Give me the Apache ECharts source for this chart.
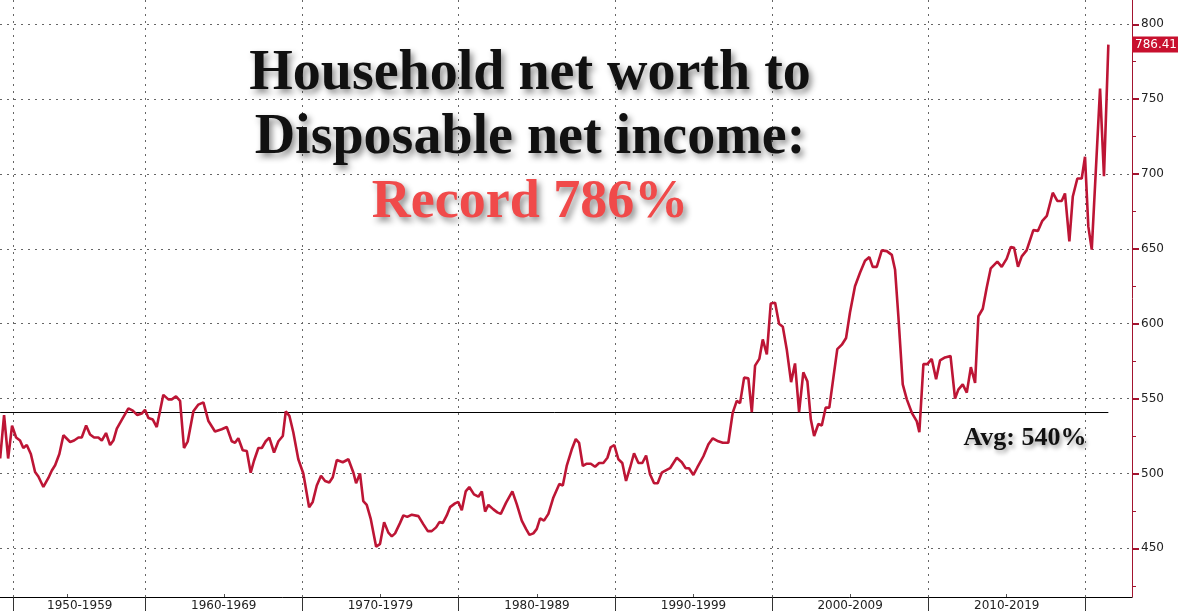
<!DOCTYPE html>
<html>
<head>
<meta charset="utf-8">
<script src="https://cdn.jsdelivr.net/npm/echarts@6/dist/echarts.min.js"></script>
<style>
html,body{margin:0;padding:0;background:#fff;}
#chart{width:1181px;height:612px;}
</style>
</head>
<body>
<div id="chart"></div>
<script>
// ---- data (year, ratio %) ----
const years = [1950.72,1950.97,1951.23,1951.48,1951.74,1951.99,1952.20,1952.42,1952.68,1952.95,1953.16,1953.48,1953.80,1954.02,1954.23,1954.50,1954.76,1955.19,1955.44,1955.72,1955.93,1956.21,1956.46,1956.72,1956.99,1957.21,1957.48,1957.74,1957.95,1958.17,1958.55,1958.91,1959.19,1959.48,1959.76,1959.97,1960.19,1960.47,1960.72,1961.14,1961.46,1961.68,1961.95,1962.21,1962.46,1962.70,1963.06,1963.38,1963.70,1964.02,1964.44,1964.87,1965.19,1965.51,1965.72,1965.93,1966.21,1966.47,1966.72,1966.93,1967.21,1967.43,1967.68,1967.91,1968.21,1968.49,1968.77,1968.96,1969.19,1969.44,1969.76,1970.08,1970.45,1970.68,1970.94,1971.21,1971.47,1971.74,1971.96,1972.22,1972.60,1972.96,1973.28,1973.45,1973.70,1973.91,1974.13,1974.39,1974.73,1974.98,1975.24,1975.51,1975.73,1975.94,1976.26,1976.47,1976.72,1977.01,1977.43,1977.75,1978.03,1978.28,1978.56,1978.77,1978.99,1979.24,1979.45,1979.77,1979.98,1980.20,1980.45,1980.68,1980.98,1981.26,1981.48,1981.69,1981.90,1982.22,1982.47,1982.69,1983.03,1983.43,1983.71,1984.03,1984.30,1984.52,1984.77,1984.99,1985.20,1985.45,1985.73,1986.05,1986.43,1986.65,1986.90,1987.22,1987.48,1987.69,1987.93,1988.18,1988.44,1988.71,1988.97,1989.24,1989.50,1989.71,1989.94,1990.20,1990.45,1990.69,1990.95,1991.20,1991.48,1991.73,1991.97,1992.22,1992.48,1992.71,1992.97,1993.23,1993.50,1993.93,1994.25,1994.50,1994.71,1994.99,1995.24,1995.63,1995.95,1996.23,1996.58,1996.87,1997.22,1997.50,1997.76,1997.97,1998.23,1998.50,1998.72,1998.93,1999.20,1999.42,1999.68,1999.93,2000.21,2000.46,2000.70,2000.95,2001.23,2001.48,2001.74,2002.01,2002.27,2002.49,2002.70,2002.97,2003.19,2003.44,2003.67,2003.93,2004.18,2004.47,2004.74,2004.99,2005.31,2005.63,2005.95,2006.23,2006.44,2006.70,2007.02,2007.34,2007.66,2007.87,2008.08,2008.36,2008.62,2008.94,2009.25,2009.42,2009.68,2009.93,2010.21,2010.49,2010.74,2011.06,2011.41,2011.70,2011.91,2012.19,2012.45,2012.71,2012.98,2013.19,2013.47,2013.72,2013.98,2014.40,2014.68,2015.00,2015.26,2015.47,2015.72,2015.96,2016.27,2016.70,2016.99,2017.26,2017.56,2017.94,2018.23,2018.51,2018.72,2019.00,2019.22,2019.51,2019.79,2020.00,2020.21,2020.43,2020.96,2021.21,2021.49];
const ratio = [510,539,510,532,524,522,517,519,513,501,498,491,497,502,505.5,513,525.5,521,522,524,524,532,526,524,524,522,527,519,522,530,537,543.5,542,539,540,542.5,537,536,531,552.5,549.5,549.5,551.5,548.5,517,521.5,541.5,546,547.5,535,528,529.5,531,521.5,520.5,523.5,515.5,515,500.5,508.5,517,517,521.5,524,514,521.5,525,541.5,538.5,527.5,509.5,500,477.5,481,492,498.5,495,494,497.5,509,507.5,509.5,500.5,493.5,500,481.5,479,469.5,451,453,467.5,460.5,458,460,467,472,471,472.5,471.5,466,461.5,461.5,464,467.5,467,472,477.5,480,481,475.5,488,491,486,484.5,488,474.5,479,476,474,473,480.5,488,479.5,468.5,463,459,460,463,470,468.5,473,484,493,492,505,516,523,520.5,505,506.5,506.5,504.5,507,507,510.5,517.5,519,509.5,507,495,504,513.5,507,507,512,499.5,493.5,493.5,500.5,502,503.5,510.5,507.5,503.5,503.5,499,504,511.5,519.5,523.5,521.5,520.5,520.5,540.5,548.5,547,564,563.5,541,572,576.5,589.5,579.5,613.5,614,600,598,583,561,573.5,541,567.5,561.5,536,525,533,532,544,544,564,583,586,590.5,607.5,625,634,642,644.5,638,638,649,648.5,646,636,605,559.5,549.5,540.5,535,527.5,573,573,576.5,563,575.5,577.5,578.5,550,556,559.5,554,571,560.5,605,610,624,637,641.5,638,643.5,651.3,650.7,638,645,649,662.5,662,668.5,672,687.5,682,682,687,655,685,697,697,711.5,665,649.5,757,698.5,786.41];
const avgValue = 540.7;
const lastLabel = '786.41';

// axis ticks / labels
const yMajorTicks = [450,500,550,600,650,700,750,800];
const yMinorTicks = [425,475,525,575,625,675,725,775];
const decadeDividers = [1951.57,1960,1970,1980,1990,2000,2010,2020];
const decadeLabelPos = [1955.8,1965,1975,1985,1995,2005,2015];
const decadeLabels = ['1950-1959','1960-1969','1970-1979','1980-1989','1990-1999','2000-2009','2010-2019'];
const midDecadeTicks = [1955,1965,1975,1985,1995,2005,2015];

const titleLines = ['Household net worth to','Disposable net income:','Record 786%'];
const avgText = 'Avg: 540%';

const X_MIN = 1950.71, X_MAX = 2023.0, Y_MIN = 417.5, Y_MAX = 816.2;

const lineData = years.map((y,i)=>[y, ratio[i]]);
const avgData = [[years[0], avgValue],[years[years.length-1], avgValue]];

const chart = echarts.init(document.getElementById('chart'), null, {renderer:'canvas'});
const dotted = {color:'#666', width:1, type:[2,5]};
const serif = '"Liberation Serif","Times New Roman",serif';
const shadow = {textShadowColor:'rgba(0,0,0,0.45)', textShadowBlur:6, textShadowOffsetX:3, textShadowOffsetY:4};

chart.setOption({
  animation:false,
  backgroundColor:'#fff',
  grid:{left:0, right:49, top:0, bottom:14, containLabel:false},
  xAxis:[{
    type:'value', min:X_MIN, max:X_MAX, position:'bottom',
    axisLine:{show:true, lineStyle:{color:'#000', width:1}},
    axisTick:{show:true, customValues:decadeDividers, length:14, lineStyle:{color:'#333'}},
    axisLabel:{show:true, customValues:decadeLabelPos, margin:3,
      fontFamily:'DejaVu Sans', fontSize:12, color:'#222',
      formatter:function(v){ const i = decadeLabelPos.findIndex(p=>Math.abs(p-v)<0.01); return i>=0?decadeLabels[i]:''; }},
    splitLine:{show:true, lineStyle:dotted}
  },{
    type:'value', min:X_MIN, max:X_MAX, position:'bottom',
    axisLine:{show:false},
    axisTick:{show:true, inside:true, customValues:midDecadeTicks, length:3, lineStyle:{color:'#555'}},
    axisLabel:{show:false}, splitLine:{show:false}
  }],
  yAxis:[{
    type:'value', min:Y_MIN, max:Y_MAX, position:'right',
    axisLine:{show:true, lineStyle:{color:'#a3142f', width:1}},
    axisTick:{show:true, customValues:yMajorTicks, length:7, lineStyle:{color:'#a3142f', width:2}},
    axisLabel:{show:true, customValues:yMajorTicks, margin:9, fontFamily:'DejaVu Sans', fontSize:12, color:'#222'},
    splitLine:{show:true, lineStyle:dotted}
  },{
    type:'value', min:Y_MIN, max:Y_MAX, position:'right',
    axisLine:{show:false},
    axisTick:{show:true, customValues:yMinorTicks, length:4, lineStyle:{color:'#a3142f', width:1}},
    axisLabel:{show:false}, splitLine:{show:false}
  }],
  series:[{
    name:'Avg', type:'line', data:avgData, showSymbol:false, silent:true, z:2,
    lineStyle:{color:'#000', width:1}
  },{
    name:'Household net worth / disposable income', type:'line', data:lineData,
    showSymbol:false, z:3, clip:false,
    lineStyle:{color:'#bd1535', width:2.6},
    markLine:{
      silent:true, symbol:'none',
      lineStyle:{color:'rgba(0,0,0,0)', width:0, opacity:1},
      label:{show:true, position:'end', distance:0, formatter:lastLabel, opacity:1,
        backgroundColor:'#c8102e', color:'#fff', fontFamily:'DejaVu Sans', fontSize:12,
        padding:[2,1,2,3]},
      data:[{yAxis:ratio[ratio.length-1]}]
    }
  }],
  graphic:[
    {type:'text', z:10, style:Object.assign({text:titleLines[0], x:530, y:75, align:'center', verticalAlign:'middle',
      font:'bold 56px '+serif, fill:'#111'}, shadow)},
    {type:'text', z:10, style:Object.assign({text:titleLines[1], x:530, y:139, align:'center', verticalAlign:'middle',
      font:'bold 56px '+serif, fill:'#111'}, shadow)},
    {type:'text', z:10, style:Object.assign({text:titleLines[2], x:530, y:203, align:'center', verticalAlign:'middle',
      font:'bold 54px '+serif, fill:'#f04a4a'}, shadow)},
    {type:'text', z:10, style:Object.assign({text:avgText, x:1025, y:438, align:'center', verticalAlign:'middle',
      font:'bold 26px '+serif, fill:'#111'}, {textShadowColor:'rgba(0,0,0,0.4)', textShadowBlur:4, textShadowOffsetX:2, textShadowOffsetY:3})}
  ]
});
</script>
</body>
</html>
